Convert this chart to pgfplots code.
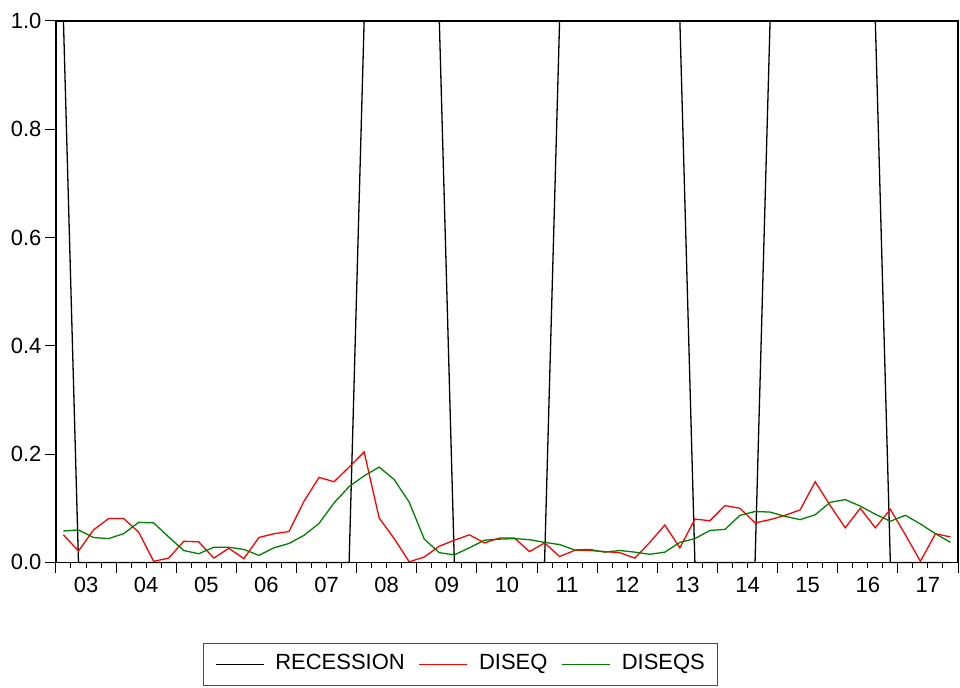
\documentclass[border=0pt]{standalone}
\usepackage{fontspec}
\setmainfont{Liberation Sans}
\usepackage{pgfplots}
\usepackage{pgfplotstable}
\pgfplotsset{compat=1.18}

% Quarterly series, 2003Q1 (t=0) to 2017Q4 (t=59)
\pgfplotstableread{
t  rec diseq diseqs
0  1   0.051 0.058
1  0   0.021 0.060
2  0   0.060 0.046
3  0   0.081 0.044
4  0   0.081 0.053
5  0   0.056 0.074
6  0   0.002 0.073
7  0   0.008 0.047
8  0   0.039 0.022
9  0   0.038 0.016
10 0   0.008 0.028
11 0   0.026 0.028
12 0   0.007 0.024
13 0   0.046 0.013
14 0   0.053 0.027
15 0   0.057 0.035
16 0   0.113 0.050
17 0   0.157 0.072
18 0   0.149 0.110
19 0   0.176 0.140
20 1   0.204 0.160
21 1   0.082 0.176
22 1   0.044 0.153
23 1   0.001 0.111
24 1   0.010 0.043
25 1   0.030 0.018
26 0   0.041 0.014
27 0   0.051 0.027
28 0   0.036 0.041
29 0   0.045 0.043
30 0   0.045 0.044
31 0   0.020 0.042
32 0   0.036 0.037
33 1   0.011 0.033
34 1   0.022 0.023
35 1   0.022 0.024
36 1   0.020 0.019
37 1   0.018 0.022
38 1   0.008 0.019
39 1   0.037 0.015
40 1   0.069 0.019
41 1   0.027 0.037
42 0   0.080 0.044
43 0   0.077 0.059
44 0   0.105 0.061
45 0   0.100 0.087
46 0   0.073 0.094
47 1   0.079 0.093
48 1   0.087 0.085
49 1   0.097 0.079
50 1   0.149 0.088
51 1   0.105 0.111
52 1   0.064 0.116
53 1   0.100 0.104
54 1   0.064 0.089
55 0   0.098 0.076
56 0   0.051 0.087
57 0   0.002 0.071
58 0   0.053 0.053
59 0   0.047 0.037
}\rates

\definecolor{dgreen}{RGB}{0,128,0}

\begin{document}
\begin{tikzpicture}
% page area: labels to the left, legend below, a small margin on top
\path[use as bounding box] (-56pt,-125pt) rectangle (905pt,563pt);
\begin{axis}[
  at={(0pt,0pt)}, anchor=south west,
  scale only axis, width=903pt, height=542pt,
  xmin=0, xmax=60, ymin=0, ymax=1,
  clip=false,
  axis line style={line width=1.5pt, black},
  xtick={0,4,...,60},
  xticklabels={03,04,05,06,07,08,09,10,11,12,13,14,15,16,17},
  x tick label as interval,
  minor x tick num=3,
  ytick={0,0.2,0.4,0.6,0.8,1.0},
  tick align=outside,
  tick pos=left,
  major tick length=11pt, minor tick length=6pt,
  tick style={line width=1pt, black},
  /pgf/number format/assume math mode=true,
  yticklabel style={/pgf/number format/fixed, /pgf/number format/fixed zerofill, /pgf/number format/precision=1},
  tick label style={font=\fontsize{22}{26}\selectfont},
  legend columns=3,
  legend image code/.code={\draw[#1, line width=1.4pt] (0pt,0pt) -- (48pt,0pt);},
  legend style={at={(0.1628,-0.1494)}, anchor=north west,
    draw=black!70,
    inner xsep=12pt, inner ysep=16pt,
    column sep=0pt,
    /tikz/every odd column/.append style={column sep=11pt},
    /tikz/every even column/.append style={column sep=14pt},
    nodes={inner sep=0pt, text height=10pt, text depth=0pt,
      font=\fontsize{22}{26}\selectfont}},
]
\addplot[black, line width=1.3pt] table[x expr=\thisrow{t}+0.5, y=rec] {\rates};
\addlegendentry{RECESSION}
\addplot[red, line width=1.3pt] table[x expr=\thisrow{t}+0.5, y=diseq] {\rates};
\addlegendentry{DISEQ}
\addplot[dgreen, line width=1.3pt] table[x expr=\thisrow{t}+0.5, y=diseqs] {\rates};
\addlegendentry{DISEQS}
% full frame round the plot area
\draw[black, line width=1.5pt] (rel axis cs:0,0) rectangle (rel axis cs:1,1);
\end{axis}
\end{tikzpicture}
\end{document}
